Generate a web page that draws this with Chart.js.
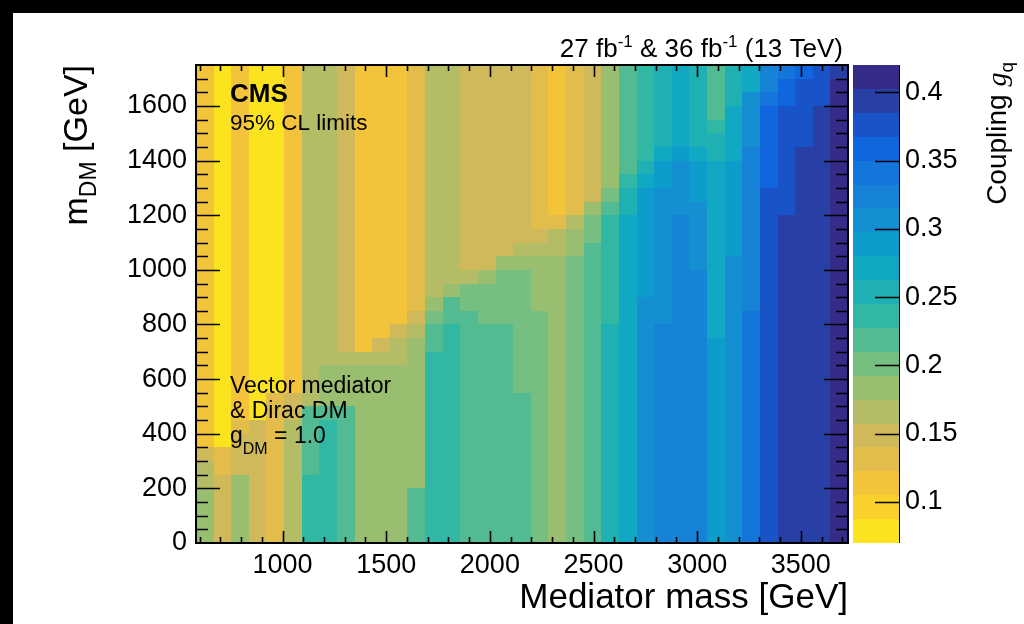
<!DOCTYPE html>
<html>
<head>
<meta charset="utf-8">
<title>Dark matter coupling limits</title>
<script src="https://cdn.jsdelivr.net/npm/chart.js@4.4.1/dist/chart.umd.min.js"></script>
<style>
  html, body { margin: 0; padding: 0; background: #fff; overflow: hidden; }
  canvas { display: block; }
</style>
</head>
<body>
<canvas id="limitChart" width="1024" height="624"></canvas>
<script>
// Mediator mass bin centres (GeV), bins are 85 GeV wide
const mediatorMass = [625, 710, 795, 880, 965, 1050, 1135, 1220, 1305, 1390, 1475, 1560, 1645, 1730, 1815, 1900, 1985, 2070, 2155, 2240, 2325, 2410, 2495, 2580, 2665, 2750, 2835, 2920, 3005, 3090, 3175, 3260, 3345, 3430, 3515, 3600, 3685];
const medBinWidth = 85;

// Dark matter mass bin centres (GeV), bins are 50 GeV wide
const dmMass = [25, 75, 125, 175, 225, 275, 325, 375, 425, 475, 525, 575, 625, 675, 725, 775, 825, 875, 925, 975, 1025, 1075, 1125, 1175, 1225, 1275, 1325, 1375, 1425, 1475, 1525, 1575, 1625, 1675, 1725];
const dmBinWidth = 50;

// 95% CL upper limit on g_q, one array per mediator bin, from low to high m_DM
const couplingLimit = [
  [0.184,0.184,0.184,0.184,0.166, 0.166,0.149,0.114,0.114,0.114, 0.114,0.114,0.114,0.114,0.114, 0.114,0.114,0.114,0.114,0.114, 0.114,0.114,0.114,0.114,0.114, 0.114,0.114,0.114,0.114,0.114, 0.114,0.114,0.114,0.114,0.114],
  [0.149,0.149,0.149,0.149,0.149, 0.131,0.131,0.079,0.079,0.079, 0.079,0.079,0.079,0.079,0.079, 0.079,0.079,0.079,0.079,0.079, 0.079,0.079,0.079,0.079,0.079, 0.079,0.079,0.079,0.079,0.079, 0.079,0.079,0.079,0.079,0.079],
  [0.184,0.184,0.184,0.184,0.184, 0.149,0.149,0.149,0.131,0.114, 0.114,0.114,0.114,0.114,0.114, 0.114,0.114,0.114,0.114,0.114, 0.114,0.114,0.114,0.114,0.114, 0.114,0.114,0.114,0.114,0.114, 0.114,0.114,0.114,0.114,0.114],
  [0.149,0.149,0.149,0.149,0.149, 0.149,0.149,0.149,0.149,0.079, 0.079,0.079,0.079,0.079,0.079, 0.079,0.079,0.079,0.079,0.079, 0.079,0.079,0.079,0.079,0.079, 0.079,0.079,0.079,0.079,0.079, 0.079,0.079,0.079,0.079,0.079],
  [0.131,0.131,0.131,0.131,0.131, 0.131,0.131,0.131,0.131,0.131, 0.131,0.079,0.079,0.079,0.079, 0.079,0.079,0.079,0.079,0.079, 0.079,0.079,0.079,0.079,0.079, 0.079,0.079,0.079,0.079,0.079, 0.079,0.079,0.079,0.079,0.079],
  [0.166,0.166,0.166,0.166,0.166, 0.166,0.166,0.166,0.166,0.149, 0.149,0.114,0.114,0.114,0.114, 0.114,0.114,0.114,0.114,0.114, 0.114,0.114,0.114,0.114,0.114, 0.114,0.114,0.114,0.114,0.114, 0.114,0.114,0.114,0.114,0.114],
  [0.236,0.236,0.236,0.236,0.236, 0.219,0.219,0.219,0.219,0.219, 0.166,0.166,0.166,0.166,0.166, 0.166,0.166,0.166,0.166,0.166, 0.166,0.166,0.166,0.166,0.166, 0.166,0.166,0.166,0.166,0.166, 0.166,0.166,0.166,0.166,0.166],
  [0.236,0.236,0.236,0.236,0.236, 0.236,0.236,0.236,0.236,0.219, 0.184,0.184,0.184,0.166,0.166, 0.166,0.166,0.166,0.166,0.166, 0.166,0.166,0.166,0.166,0.166, 0.166,0.166,0.166,0.166,0.166, 0.166,0.166,0.166,0.166,0.166],
  [0.219,0.219,0.219,0.219,0.219, 0.219,0.219,0.219,0.219,0.219, 0.184,0.184,0.184,0.166,0.149, 0.149,0.149,0.149,0.149,0.149, 0.149,0.149,0.149,0.149,0.149, 0.149,0.149,0.149,0.149,0.149, 0.149,0.149,0.149,0.149,0.149],
  [0.184,0.184,0.184,0.184,0.184, 0.184,0.184,0.184,0.184,0.184, 0.184,0.184,0.184,0.166,0.114, 0.114,0.114,0.114,0.114,0.114, 0.114,0.114,0.114,0.114,0.114, 0.114,0.114,0.114,0.114,0.114, 0.114,0.114,0.114,0.114,0.114],
  [0.184,0.184,0.184,0.184,0.184, 0.184,0.184,0.184,0.184,0.184, 0.184,0.184,0.184,0.166,0.149, 0.114,0.114,0.114,0.114,0.114, 0.114,0.114,0.114,0.114,0.114, 0.114,0.114,0.114,0.114,0.114, 0.114,0.114,0.114,0.114,0.114],
  [0.184,0.184,0.184,0.184,0.184, 0.184,0.184,0.184,0.184,0.184, 0.184,0.184,0.184,0.166,0.166, 0.149,0.114,0.114,0.114,0.114, 0.114,0.114,0.114,0.114,0.114, 0.114,0.114,0.114,0.114,0.114, 0.114,0.114,0.114,0.114,0.114],
  [0.219,0.219,0.219,0.219,0.184, 0.184,0.184,0.184,0.184,0.184, 0.184,0.184,0.184,0.184,0.184, 0.166,0.149,0.131,0.131,0.131, 0.131,0.131,0.131,0.131,0.131, 0.131,0.131,0.131,0.131,0.131, 0.131,0.131,0.131,0.131,0.131],
  [0.236,0.236,0.236,0.236,0.236, 0.236,0.236,0.236,0.236,0.236, 0.236,0.236,0.236,0.236,0.219, 0.219,0.201,0.184,0.166,0.166, 0.166,0.166,0.166,0.166,0.166, 0.166,0.166,0.166,0.166,0.166, 0.166,0.166,0.166,0.166,0.166],
  [0.236,0.236,0.236,0.236,0.236, 0.236,0.236,0.236,0.236,0.236, 0.236,0.236,0.236,0.236,0.236, 0.236,0.219,0.219,0.184,0.166, 0.166,0.166,0.166,0.166,0.166, 0.166,0.166,0.166,0.166,0.166, 0.166,0.166,0.166,0.166,0.166],
  [0.219,0.219,0.219,0.219,0.219, 0.219,0.219,0.219,0.219,0.219, 0.219,0.219,0.219,0.219,0.219, 0.219,0.219,0.201,0.201,0.166, 0.149,0.149,0.149,0.149,0.149, 0.149,0.149,0.149,0.149,0.149, 0.149,0.149,0.149,0.149,0.149],
  [0.219,0.219,0.219,0.219,0.219, 0.219,0.219,0.219,0.219,0.219, 0.219,0.219,0.219,0.219,0.219, 0.219,0.201,0.201,0.201,0.184, 0.149,0.149,0.149,0.149,0.149, 0.149,0.149,0.149,0.149,0.149, 0.149,0.149,0.149,0.149,0.149],
  [0.219,0.219,0.219,0.219,0.219, 0.219,0.219,0.219,0.219,0.219, 0.219,0.219,0.219,0.219,0.219, 0.219,0.201,0.201,0.201,0.201, 0.184,0.149,0.149,0.149,0.149, 0.149,0.149,0.149,0.149,0.149, 0.149,0.149,0.149,0.149,0.149],
  [0.219,0.219,0.219,0.219,0.219, 0.219,0.219,0.219,0.219,0.219, 0.219,0.201,0.201,0.201,0.201, 0.201,0.201,0.201,0.201,0.201, 0.184,0.166,0.149,0.149,0.149, 0.149,0.149,0.149,0.149,0.149, 0.149,0.149,0.149,0.149,0.149],
  [0.201,0.201,0.201,0.201,0.201, 0.201,0.201,0.201,0.201,0.201, 0.201,0.201,0.201,0.201,0.201, 0.201,0.201,0.184,0.184,0.184, 0.184,0.166,0.149,0.131,0.131, 0.131,0.131,0.131,0.131,0.131, 0.131,0.131,0.131,0.131,0.131],
  [0.184,0.184,0.184,0.184,0.184, 0.184,0.184,0.184,0.184,0.184, 0.184,0.184,0.184,0.184,0.184, 0.184,0.184,0.184,0.184,0.184, 0.184,0.166,0.166,0.131,0.114, 0.114,0.114,0.114,0.114,0.114, 0.114,0.114,0.114,0.114,0.114],
  [0.201,0.201,0.201,0.201,0.201, 0.201,0.201,0.201,0.201,0.201, 0.201,0.201,0.201,0.201,0.201, 0.201,0.201,0.201,0.201,0.201, 0.201,0.184,0.184,0.166,0.131, 0.131,0.131,0.131,0.131,0.131, 0.131,0.131,0.131,0.131,0.131],
  [0.219,0.219,0.219,0.219,0.219, 0.219,0.219,0.219,0.219,0.219, 0.219,0.219,0.219,0.219,0.219, 0.219,0.219,0.219,0.219,0.219, 0.219,0.219,0.201,0.201,0.184, 0.149,0.149,0.149,0.149,0.149, 0.149,0.149,0.149,0.149,0.149],
  [0.254,0.254,0.254,0.254,0.254, 0.254,0.254,0.254,0.254,0.254, 0.254,0.254,0.254,0.254,0.254, 0.254,0.236,0.236,0.236,0.236, 0.236,0.236,0.236,0.236,0.219, 0.201,0.184,0.184,0.184,0.184, 0.184,0.184,0.184,0.184,0.184],
  [0.271,0.271,0.271,0.271,0.271, 0.271,0.271,0.271,0.271,0.271, 0.271,0.271,0.271,0.271,0.271, 0.271,0.271,0.271,0.271,0.271, 0.271,0.271,0.271,0.271,0.254, 0.254,0.236,0.219,0.219,0.219, 0.219,0.219,0.219,0.219,0.219],
  [0.306,0.306,0.306,0.306,0.306, 0.306,0.306,0.306,0.306,0.306, 0.306,0.306,0.306,0.306,0.306, 0.306,0.306,0.306,0.289,0.289, 0.289,0.289,0.289,0.289,0.289, 0.289,0.271,0.254,0.236,0.236, 0.236,0.236,0.236,0.236,0.236],
  [0.324,0.324,0.324,0.324,0.324, 0.324,0.324,0.324,0.324,0.324, 0.324,0.324,0.324,0.324,0.324, 0.324,0.306,0.306,0.306,0.306, 0.306,0.306,0.306,0.306,0.306, 0.306,0.289,0.289,0.271,0.254, 0.254,0.254,0.254,0.254,0.254],
  [0.324,0.324,0.324,0.324,0.324, 0.324,0.324,0.324,0.324,0.324, 0.324,0.324,0.324,0.324,0.324, 0.324,0.324,0.324,0.324,0.324, 0.324,0.324,0.324,0.324,0.306, 0.306,0.306,0.306,0.289,0.271, 0.271,0.271,0.271,0.271,0.271],
  [0.324,0.324,0.324,0.324,0.324, 0.324,0.324,0.324,0.324,0.324, 0.324,0.324,0.324,0.324,0.324, 0.324,0.324,0.324,0.324,0.324, 0.306,0.306,0.306,0.306,0.306, 0.289,0.289,0.289,0.271,0.254, 0.254,0.254,0.254,0.254,0.254],
  [0.289,0.289,0.289,0.289,0.289, 0.289,0.289,0.289,0.289,0.289, 0.289,0.289,0.289,0.289,0.289, 0.271,0.271,0.271,0.271,0.271, 0.271,0.271,0.271,0.271,0.271, 0.271,0.271,0.271,0.254,0.254, 0.236,0.219,0.219,0.219,0.219],
  [0.306,0.306,0.306,0.306,0.306, 0.306,0.306,0.306,0.306,0.306, 0.306,0.306,0.306,0.306,0.306, 0.306,0.306,0.306,0.306,0.306, 0.306,0.289,0.289,0.289,0.289, 0.289,0.289,0.289,0.271,0.271, 0.271,0.271,0.254,0.254,0.254],
  [0.341,0.341,0.341,0.341,0.341, 0.341,0.341,0.341,0.341,0.341, 0.341,0.341,0.341,0.341,0.341, 0.341,0.341,0.324,0.324,0.324, 0.324,0.324,0.324,0.324,0.324, 0.324,0.324,0.324,0.324,0.306, 0.306,0.306,0.306,0.271,0.271],
  [0.376,0.376,0.376,0.376,0.376, 0.376,0.376,0.376,0.376,0.376, 0.376,0.376,0.376,0.376,0.376, 0.376,0.376,0.376,0.376,0.376, 0.376,0.376,0.376,0.376,0.376, 0.376,0.359,0.359,0.359,0.359, 0.359,0.359,0.341,0.324,0.324],
  [0.394,0.394,0.394,0.394,0.394, 0.394,0.394,0.394,0.394,0.394, 0.394,0.394,0.394,0.394,0.394, 0.394,0.394,0.394,0.394,0.394, 0.394,0.394,0.394,0.394,0.376, 0.376,0.376,0.376,0.376,0.376, 0.376,0.376,0.359,0.359,0.341],
  [0.394,0.394,0.394,0.394,0.394, 0.394,0.394,0.394,0.394,0.394, 0.394,0.394,0.394,0.394,0.394, 0.394,0.394,0.394,0.394,0.394, 0.394,0.394,0.394,0.394,0.394, 0.394,0.394,0.394,0.394,0.376, 0.376,0.376,0.376,0.376,0.359],
  [0.394,0.394,0.394,0.394,0.394, 0.394,0.394,0.394,0.394,0.394, 0.394,0.394,0.394,0.394,0.394, 0.394,0.394,0.394,0.394,0.394, 0.394,0.394,0.394,0.394,0.394, 0.394,0.394,0.394,0.394,0.394, 0.394,0.394,0.376,0.376,0.376],
  [0.411,0.411,0.411,0.411,0.411, 0.411,0.411,0.411,0.411,0.411, 0.411,0.411,0.411,0.411,0.411, 0.411,0.411,0.411,0.411,0.411, 0.411,0.411,0.411,0.411,0.411, 0.411,0.411,0.411,0.411,0.411, 0.411,0.411,0.411,0.411,0.394]
];

// colour scale: 20 equal contours between gqMin and gqMax
const gqMin = 0.07;
const gqMax = 0.42;
const levelColors = [
  '#fbe31f', '#fad12b', '#f3c43a', '#e2bd4b', '#d0b95a',
  '#b4bc65', '#99be6f', '#77bf81', '#53bb92', '#30b8a5',
  '#1fb0b3', '#10a8c3', '#0c9dcb', '#1490d2', '#1783d6',
  '#1476da', '#1066dc', '#1853c8', '#283fa6', '#352b88'
];

// axis ticks
const xTickValues = [1000, 1500, 2000, 2500, 3000, 3500];
const yTickValues = [0, 200, 400, 600, 800, 1000, 1200, 1400, 1600];
const gqTickValues = [0.1, 0.15, 0.2, 0.25, 0.3, 0.35, 0.4];
const gqTickLabels = ['0.1', '0.15', '0.2', '0.25', '0.3', '0.35', '0.4'];

const FONT = "'Liberation Sans', Arial, Helvetica, sans-serif";

function levelIndex(v) {
  const step = (gqMax - gqMin) / levelColors.length;
  const k = Math.floor((v - gqMin) / step);
  return Math.max(0, Math.min(levelColors.length - 1, k));
}

const cells = [];
mediatorMass.forEach((mMed, i) => {
  dmMass.forEach((mDM, j) => {
    cells.push({ x: mMed, y: mDM, v: couplingLimit[i][j] });
  });
});

// draws a run of text pieces; each piece may be raised/lowered and sized on its own
function drawPieces(c, pieces, x, y, align) {
  let total = 0;
  pieces.forEach(p => {
    c.font = p.font;
    p.w = c.measureText(p.text).width;
    total += p.w;
  });
  let cx = align === 'right' ? x - total : x;
  c.textAlign = 'left';
  c.textBaseline = 'alphabetic';
  pieces.forEach(p => {
    c.font = p.font;
    c.fillText(p.text, cx, y + (p.dy || 0));
    cx += p.w;
  });
}

// keep the plot frame where the layout puts it, without label overhang padding
function fixVertical(width) {
  return s => { s.width = width; s.paddingTop = 0; s.paddingBottom = 0; };
}

const limitMapPlugin = {
  id: 'limitMap',
  beforeDraw(chart) {
    const c = chart.ctx;
    c.save();
    c.fillStyle = '#fff';
    c.fillRect(0, 0, chart.width, chart.height);
    c.fillStyle = '#000';
    c.fillRect(0, 0, chart.width, 13);
    c.fillRect(0, 0, 13, chart.height);
    c.restore();
  },
  beforeDatasetsDraw(chart) {
    const c = chart.ctx;
    const xs = chart.scales.x, ys = chart.scales.y, gq = chart.scales.gq;
    c.save();
    chart.data.datasets[0].data.forEach(p => {
      const l = Math.round(xs.getPixelForValue(p.x - medBinWidth / 2));
      const r = Math.round(xs.getPixelForValue(p.x + medBinWidth / 2));
      const t = Math.round(ys.getPixelForValue(p.y + dmBinWidth / 2));
      const b = Math.round(ys.getPixelForValue(p.y - dmBinWidth / 2));
      c.fillStyle = levelColors[levelIndex(p.v)];
      c.fillRect(l, t, r - l, b - t);
    });

    // colour bar
    const barL = chart.chartArea.right + 5;
    const barR = chart.chartArea.right + 51;
    const step = (gqMax - gqMin) / levelColors.length;
    levelColors.forEach((col, k) => {
      const yb = Math.round(gq.getPixelForValue(gqMin + k * step));
      const yt = Math.round(gq.getPixelForValue(gqMin + (k + 1) * step));
      c.fillStyle = col;
      c.fillRect(barL, yt, barR - barL, yb - yt);
    });
    c.restore();
  },
  afterDatasetsDraw(chart) {
    const c = chart.ctx;
    const { left, right, top, bottom } = chart.chartArea;
    const xs = chart.scales.x, ys = chart.scales.y, gq = chart.scales.gq;
    c.save();
    c.strokeStyle = '#000';
    c.lineWidth = 2;
    c.strokeRect(left, top, right - left, bottom - top);

    c.lineWidth = 1.6;
    c.beginPath();
    // x ticks every 100 GeV, longer at labelled values
    for (let v = 600; v <= 3700; v += 100) {
      const px = Math.round(xs.getPixelForValue(v)) + 0.5;
      const len = xTickValues.includes(v) ? 12 : 6;
      c.moveTo(px, bottom); c.lineTo(px, bottom - len);
      c.moveTo(px, top); c.lineTo(px, top + len);
    }
    // y ticks every 50 GeV
    for (let v = 50; v < 1750; v += 50) {
      const py = Math.round(ys.getPixelForValue(v)) + 0.5;
      const len = v % 200 === 0 ? 24 : 12;
      c.moveTo(left, py); c.lineTo(left + len, py);
      c.moveTo(right, py); c.lineTo(right - len, py);
    }
    // colour bar ticks
    const barR = right + 51;
    gqTickValues.forEach(v => {
      const py = Math.round(gq.getPixelForValue(v)) + 0.5;
      c.moveTo(barR, py); c.lineTo(barR - 24, py);
    });
    c.stroke();

    c.lineWidth = 1;
    c.beginPath();
    c.moveTo(barR + 0.5, top);
    c.lineTo(barR + 0.5, bottom);
    c.stroke();
    c.restore();
  },
  afterDraw(chart) {
    const c = chart.ctx;
    const { left, right, top } = chart.chartArea;
    c.save();
    c.fillStyle = '#000';

    // luminosity label
    const big = `26px ${FONT}`, sup = `17px ${FONT}`;
    drawPieces(c, [
      { text: '27 fb', font: big },
      { text: '-1', font: sup, dy: -10 },
      { text: ' & 36 fb', font: big },
      { text: '-1', font: sup, dy: -10 },
      { text: ' (13 TeV)', font: big }
    ], 843, 57, 'right');

    // experiment and analysis labels
    drawPieces(c, [{ text: 'CMS', font: `bold 26px ${FONT}` }], left + 34, 102, 'left');
    drawPieces(c, [{ text: '95% CL limits', font: `22.5px ${FONT}` }], left + 34, 130, 'left');
    const mid = `23px ${FONT}`;
    drawPieces(c, [{ text: 'Vector mediator', font: mid }], left + 34, 393, 'left');
    drawPieces(c, [{ text: '& Dirac DM', font: mid }], left + 34, 418, 'left');
    drawPieces(c, [
      { text: 'g', font: mid },
      { text: 'DM', font: `16px ${FONT}`, dy: 11 },
      { text: ' = 1.0', font: mid }
    ], left + 34, 443, 'left');

    // x axis title
    drawPieces(c, [{ text: 'Mediator mass [GeV]', font: `35px ${FONT}` }], right, 608, 'right');

    // y axis title, rotated
    c.save();
    c.translate(87, top);
    c.rotate(-Math.PI / 2);
    drawPieces(c, [
      { text: 'm', font: `34px ${FONT}` },
      { text: 'DM', font: `23px ${FONT}`, dy: 9 },
      { text: ' [GeV]', font: `34px ${FONT}` }
    ], 0, 0, 'right');
    c.restore();

    // colour bar title, rotated
    c.save();
    c.translate(1006, top - 3);
    c.rotate(-Math.PI / 2);
    drawPieces(c, [
      { text: 'Coupling ', font: `28px ${FONT}` },
      { text: 'g', font: `italic 28px 'Liberation Serif', serif` },
      { text: 'q', font: `19px ${FONT}`, dy: 7 }
    ], 0, 0, 'right');
    c.restore();

    c.restore();
  }
};

new Chart(document.getElementById('limitChart'), {
  type: 'scatter',
  data: {
    datasets: [{
      label: 'Coupling limit',
      data: cells,
      pointRadius: 0,
      pointHoverRadius: 0,
      showLine: false
    }]
  },
  options: {
    responsive: false,
    animation: false,
    events: [],
    layout: { padding: { top: 65, right: 0, bottom: 0, left: 0 } },
    plugins: {
      legend: { display: false },
      tooltip: { enabled: false }
    },
    scales: {
      x: {
        type: 'linear',
        position: 'bottom',
        min: 582.5,
        max: 3727.5,
        afterBuildTicks: s => { s.ticks = xTickValues.map(v => ({ value: v })); },
        afterFit: s => { s.height = 81; s.paddingLeft = 0; s.paddingRight = 0; },
        grid: { display: false, drawTicks: false },
        border: { display: false },
        ticks: {
          color: '#000',
          padding: 6,
          maxRotation: 0,
          autoSkip: false,
          font: { family: FONT, size: 27 },
          callback: v => String(v)
        }
      },
      y: {
        type: 'linear',
        position: 'left',
        min: 0,
        max: 1750,
        afterBuildTicks: s => { s.ticks = yTickValues.map(v => ({ value: v })); },
        afterFit: fixVertical(196),
        grid: { display: false, drawTicks: false },
        border: { display: false },
        ticks: {
          color: '#000',
          padding: 9,
          autoSkip: false,
          font: { family: FONT, size: 27 },
          callback: v => String(v)
        }
      },
      gq: {
        type: 'linear',
        position: 'right',
        min: gqMin,
        max: gqMax,
        afterBuildTicks: s => { s.ticks = gqTickValues.map(v => ({ value: v })); },
        afterFit: fixVertical(176),
        grid: { display: false, drawTicks: false },
        border: { display: false },
        ticks: {
          color: '#000',
          padding: 57,
          autoSkip: false,
          font: { family: FONT, size: 27 },
          callback: (v, i) => gqTickLabels[i]
        }
      }
    }
  },
  plugins: [limitMapPlugin]
});
</script>
</body>
</html>
